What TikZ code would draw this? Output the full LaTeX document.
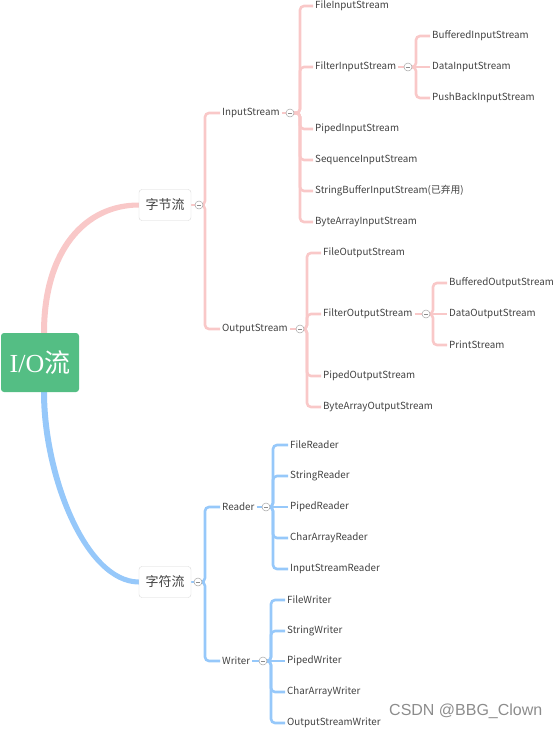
\documentclass[tikz,border=0pt]{standalone}
\usepackage{fontspec}
\setmainfont{Noto Sans CJK SC}
\newfontfamily\rootfont{Liberation Serif}
\newfontfamily\cjkfont{Noto Sans CJK SC}
\newfontfamily\wmfont{Liberation Sans}
\pgfdeclarelayer{bg}
\pgfsetlayers{bg,main}
\definecolor{pinkc}{RGB}{249,200,200}
\definecolor{bluec}{RGB}{150,200,250}
\definecolor{rootg}{RGB}{84,190,132}
\definecolor{txt}{RGB}{65,65,65}
\tikzset{
  leaf/.style={anchor=west,inner sep=2pt,text=txt,font=\fontsize{9.8}{11}\selectfont},
  topbox/.style={draw=black!15,fill=white,rounded corners=3pt,minimum width=52pt,minimum height=31pt,inner sep=0pt,text=txt,font=\fontsize{13}{15}\selectfont},
  coll/.style={circle,draw=black!35,fill=white,minimum size=8pt,inner sep=0pt,line width=0.5pt,
    path picture={\draw[black!45,line width=0.5pt] ([xshift=-2pt]path picture bounding box.center) -- ([xshift=2pt]path picture bounding box.center);}},
  pinkline/.style={draw=pinkc,line width=2.6pt,rounded corners=4pt},
  blueline/.style={draw=bluec,line width=2.6pt,rounded corners=4pt},
}
\begin{document}
\begin{tikzpicture}[x=1pt,y=-1pt]
\useasboundingbox (0,0) rectangle (558,729);
% root
\node[fill=rootg,rounded corners=3pt,minimum width=78pt,minimum height=59pt,inner sep=0pt,text=white,font=\fontsize{26}{28}\selectfont] (root) at (40,362.5) {\rootfont I/O\cjkfont 流};
% level 1
\node[topbox] (zj) at (165,205) {字节流};
\node[topbox] (zf) at (165,582) {字符流};
\node[coll] (czj) at (199,205) {};
\node[coll] (czf) at (198,582) {};
% byte streams
\node[leaf] (is) at (220,113) {InputStream};
\node[coll] (cis) at (290,113) {};
\node[leaf] (os) at (220,329) {OutputStream};
\node[coll] (cos) at (300,329) {};
\node[leaf] (fis) at (313,6) {FileInputStream};
\node[leaf] (filis) at (313,67) {FilterInputStream};
\node[coll] (cfilis) at (408,67) {};
\node[leaf] (pis) at (313,129) {PipedInputStream};
\node[leaf] (sis) at (313,160) {SequenceInputStream};
\node[leaf] (sbis) at (313,191) {StringBufferInputStream(已弃用)};
\node[leaf] (bais) at (313,222) {ByteArrayInputStream};
\node[leaf] (bis) at (430,36) {BufferedInputStream};
\node[leaf] (dis) at (430,67) {DataInputStream};
\node[leaf] (pbis) at (430,98) {PushBackInputStream};
\node[leaf] (fos) at (321,253) {FileOutputStream};
\node[leaf] (filos) at (321,314) {FilterOutputStream};
\node[coll] (cfilos) at (426,314) {};
\node[leaf] (pos) at (321,376) {PipedOutputStream};
\node[leaf] (baos) at (321,407) {ByteArrayOutputStream};
\node[leaf] (bos) at (447,283) {BufferedOutputStream};
\node[leaf] (dos) at (447,314) {DataOutputStream};
\node[leaf] (ps) at (447,345) {PrintStream};
% char streams
\node[leaf] (rd) at (220,507) {Reader};
\node[coll] (crd) at (266,507) {};
\node[leaf] (wr) at (220,661) {Writer};
\node[coll] (cwr) at (263,661) {};
\node[leaf] (fr) at (288,445) {FileReader};
\node[leaf] (sr) at (288,476) {StringReader};
\node[leaf] (pr) at (288,507) {PipedReader};
\node[leaf] (car) at (288,538) {CharArrayReader};
\node[leaf] (isr) at (288,569) {InputStreamReader};
\node[leaf] (fw) at (285,600) {FileWriter};
\node[leaf] (sw) at (285,631) {StringWriter};
\node[leaf] (pw) at (285,661) {PipedWriter};
\node[leaf] (caw) at (285,692) {CharArrayWriter};
\node[leaf] (osw) at (285,723) {OutputStreamWriter};
% watermark
\node[anchor=west,inner sep=0pt,text=black!45,font=\wmfont\fontsize{16}{18}\selectfont] (wm) at (389,711) {CSDN @BBG\_Clown};
% bar coordinates
\coordinate (bzj) at (205,205);
\coordinate (bis0) at (300,113);
\coordinate (bfi) at (416,67);
\coordinate (bos0) at (307,329);
\coordinate (bfo) at (433,314);
\coordinate (bzf) at (205,582);
\coordinate (brd) at (273,507);
\coordinate (bwr) at (271,661);
\begin{pgfonlayer}{bg}
% main curves
\fill[pinkc] (root.north) ++(1,0) .. controls (41,248) and (84,202) .. (zj.west |- 0,202.5) -- (zj.west |- 0,207.5) .. controls (87,208) and (47,252) .. (47,333) -- cycle;
\fill[bluec] (root.south) ++(1,0) .. controls (41,477) and (84,584.5) .. (zf.west |- 0,584.5) -- (zf.west |- 0,579.5) .. controls (87,579) and (47,473) .. (47,392) -- cycle;
% byte stream branches
\draw[pinkline] (zj.east) -- (czj.center);
\foreach \c in {is,os} \draw[pinkline] (czj.center) -- (bzj) |- (\c.west);
\draw[pinkline] (is.east) -- (cis.center);
\foreach \c in {fis,filis,pis,sis,sbis,bais} \draw[pinkline] (cis.center) -- (bis0) |- (\c.west);
\draw[pinkline] (filis.east) -- (cfilis.center);
\foreach \c in {bis,pbis} \draw[pinkline] (cfilis.center) -- (bfi) |- (\c.west);
\draw[pinkline] (cfilis.center) -- (dis.west);
\draw[pinkline] (os.east) -- (cos.center);
\foreach \c in {fos,filos,pos,baos} \draw[pinkline] (cos.center) -- (bos0) |- (\c.west);
\draw[pinkline] (filos.east) -- (cfilos.center);
\foreach \c in {bos,ps} \draw[pinkline] (cfilos.center) -- (bfo) |- (\c.west);
\draw[pinkline] (cfilos.center) -- (dos.west);
% char stream branches
\draw[blueline] (zf.east) -- (czf.center);
\foreach \c in {rd,wr} \draw[blueline] (czf.center) -- (bzf) |- (\c.west);
\draw[blueline] (rd.east) -- (crd.center);
\foreach \c in {fr,sr,car,isr} \draw[blueline] (crd.center) -- (brd) |- (\c.west);
\draw[blueline] (crd.center) -- (pr.west);
\draw[blueline] (wr.east) -- (cwr.center);
\foreach \c in {fw,sw,caw,osw} \draw[blueline] (cwr.center) -- (bwr) |- (\c.west);
\draw[blueline] (cwr.center) -- (pw.west);
\end{pgfonlayer}
\end{tikzpicture}
\end{document}
